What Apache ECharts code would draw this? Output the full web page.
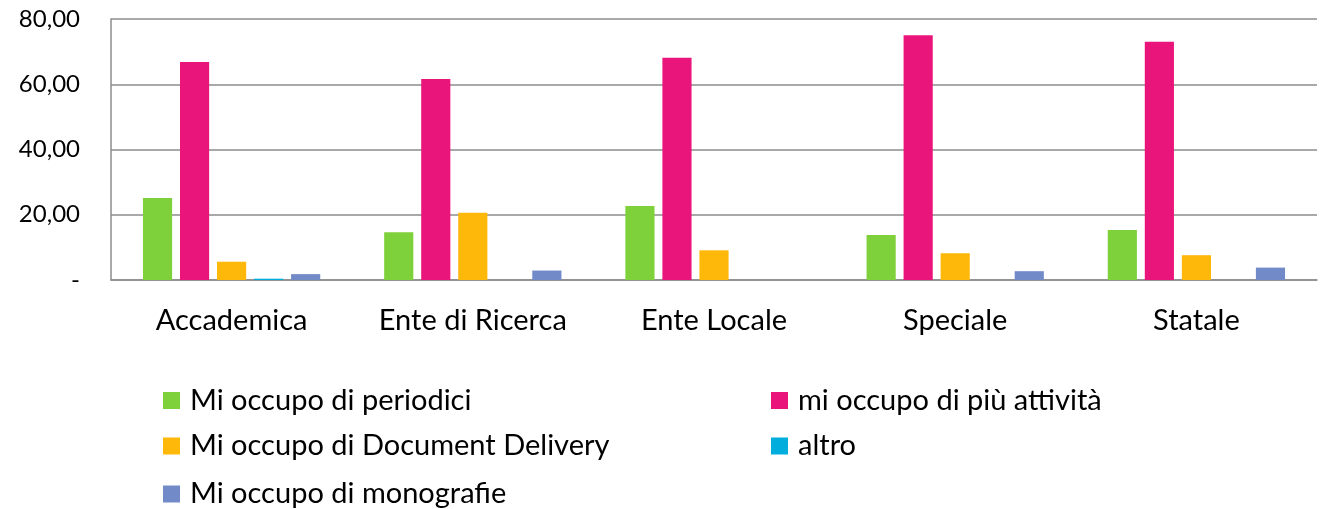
<!DOCTYPE html>
<html><head><meta charset="utf-8">
<script src="https://cdn.jsdelivr.net/npm/echarts@6/dist/echarts.min.js"></script>
<style>html,body{margin:0;padding:0;background:#fff}#c{width:1320px;height:509px}</style>
</head><body><div id="c"></div>
<script>
const categories = ['Accademica','Ente di Ricerca','Ente Locale','Speciale','Statale'];
const seriesNames = ['Mi occupo di periodici','mi occupo di più attività','Mi occupo di Document Delivery','altro','Mi occupo di monografie'];
const periodici = [25.1, 14.6, 22.7, 13.8, 15.3];
const piuAttivita = [66.8, 61.6, 68.1, 75.0, 73.0];
const documentDelivery = [5.6, 20.6, 9.1, 8.2, 7.6];
const altro = [0.4, 0, 0, 0, 0];
const monografie = [1.8, 2.9, 0, 2.7, 3.8];
const yTicks = [0, 20, 40, 60, 80];
const colors = ['#7FD13B','#EA157A','#FEB80A','#00ADDC','#738AC8'];
const values = [periodici, piuAttivita, documentDelivery, altro, monografie];

const font = 'Lato, "Open Sans", sans-serif';
// legend slots: [series index, left, row centre]
const legendSlots = [[0,163,400.5],[1,771,400.5],[2,163,446],[3,771,446],[4,163,494]];
const chart = echarts.init(document.getElementById('c'));
chart.setOption({
  animation: false,
  color: colors,
  grid: {left: 111, right: 3, top: 19, bottom: 229, containLabel: false},
  xAxis: {
    type: 'category', data: categories,
    axisLine: {lineStyle: {color: '#8c8c8c', width: 1.5}},
    axisTick: {show: false},
    axisLabel: {color: '#000', fontFamily: font, fontSize: 29, margin: 26, interval: 0, hideOverlap: false}
  },
  yAxis: {
    type: 'value', min: yTicks[0], max: yTicks[yTicks.length-1], interval: 20,
    axisLine: {show: true, lineStyle: {color: '#8c8c8c', width: 1.5}},
    axisTick: {show: false},
    splitLine: {lineStyle: {color: '#8c8c8c', width: 1.5}},
    axisLabel: {color: '#000', fontFamily: font, fontSize: 24, margin: 31,
      formatter: v => v === 0 ? '-' : v.toFixed(2).replace('.', ',')}
  },
  legend: legendSlots.map(([i, left, cy]) => ({
    orient: 'horizontal', left: left, top: cy - 15, padding: 0,
    itemWidth: 17, itemHeight: 17, icon: 'rect', data: [seriesNames[i]],
    textStyle: {color: '#000', fontFamily: font, fontSize: 29, lineHeight: 30, padding: [0,0,0,5]}
  })),
  series: seriesNames.map((n, i) => ({
    name: n, type: 'bar', data: values[i],
    barGap: '27%', barCategoryGap: '26.5%',
    itemStyle: {color: colors[i]}
  }))
});
</script></body></html>
